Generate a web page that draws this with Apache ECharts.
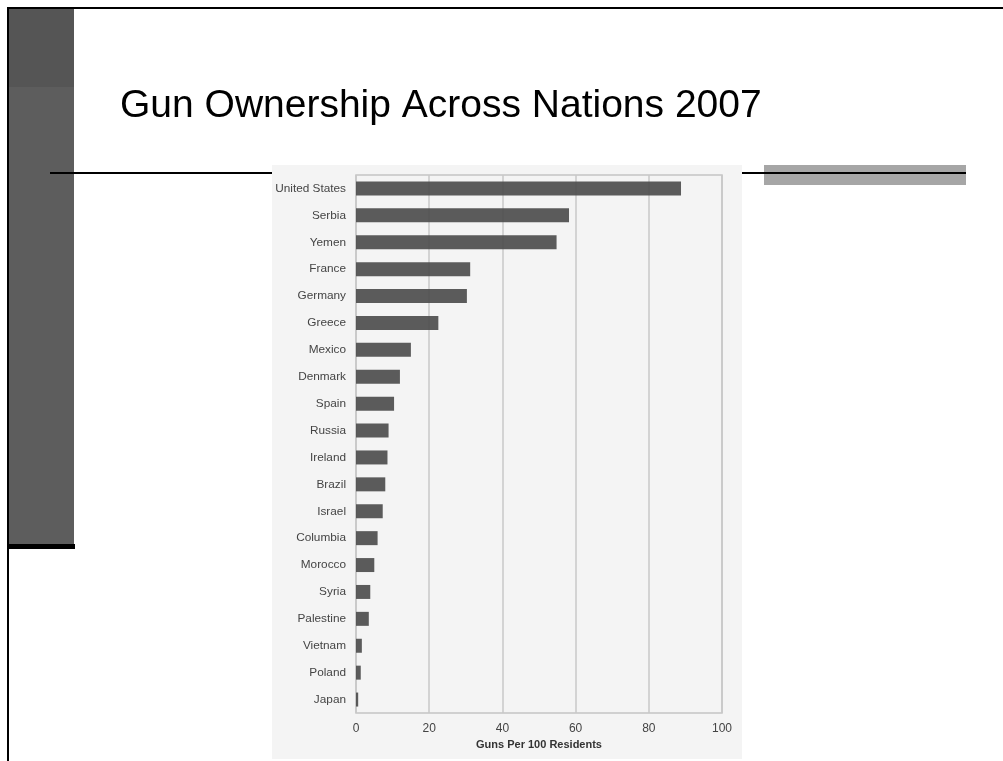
<!DOCTYPE html>
<html>
<head>
<meta charset="utf-8">
<script src="https://cdn.jsdelivr.net/npm/echarts@6/dist/echarts.min.js"></script>
<style>
html,body{margin:0;padding:0;background:#fff;}
#chart{width:1003px;height:761px;}
</style>
</head>
<body>
<div id="chart"></div>
<script>
const titleText = 'Gun Ownership Across Nations 2007';
const categories = ['United States','Serbia','Yemen','France','Germany','Greece','Mexico','Denmark','Spain','Russia','Ireland','Brazil','Israel','Columbia','Morocco','Syria','Palestine','Vietnam','Poland','Japan'];
const gunsPer100 = [88.8, 58.2, 54.8, 31.2, 30.3, 22.5, 15.0, 12.0, 10.4, 8.9, 8.6, 8.0, 7.3, 5.9, 5.0, 3.9, 3.5, 1.6, 1.3, 0.6];
const xAxisName = 'Guns Per 100 Residents';

const chart = echarts.init(document.getElementById('chart'), null, {renderer:'canvas'});
chart.setOption({
  backgroundColor: '#ffffff',
  animation: false,
  title: {
    text: titleText,
    left: 115, top: 82,
    textStyle: {fontFamily: 'Liberation Sans, Arial, sans-serif', fontSize: 39, fontWeight: 'normal', color: '#000'}
  },
  graphic: [
    {type:'rect', z:-10, shape:{x:9,y:9,width:65,height:78}, style:{fill:'#555555'}},
    {type:'rect', z:-10, shape:{x:9,y:87,width:65,height:457}, style:{fill:'#5d5d5d'}},
    {type:'rect', z:-9, shape:{x:9,y:544,width:66,height:5}, style:{fill:'#000'}},
    {type:'rect', z:-8, shape:{x:7,y:7,width:996,height:2}, style:{fill:'#000'}},
    {type:'rect', z:-8, shape:{x:7,y:7,width:2,height:754}, style:{fill:'#000'}},
    {type:'rect', z:-10, shape:{x:50,y:172,width:222,height:2}, style:{fill:'#000'}},
    {type:'rect', z:-10, shape:{x:272,y:165,width:470,height:594}, style:{fill:'#f4f4f4'}},
    {type:'rect', z:-10, shape:{x:764,y:165,width:202,height:20}, style:{fill:'#a6a6a6'}},
    {type:'rect', z:-9, shape:{x:742,y:172,width:224,height:2}, style:{fill:'#000'}}
  ],
  grid: {
    left: 356, right: 281, top: 175, bottom: 48,
    show: true, borderColor: '#c4c4c4', borderWidth: 1.5, backgroundColor: 'transparent'
  },
  xAxis: {
    type: 'value', min: 0, max: 100, interval: 20,
    axisLine: {show:false}, axisTick: {show:false},
    splitLine: {show:true, lineStyle:{color:'#c8c8c8', width:1.5}},
    axisLabel: {color:'#444', fontSize: 12, margin: 10, fontFamily: 'Liberation Sans, Arial, sans-serif'},
    name: xAxisName, nameLocation: 'middle', nameGap: 26,
    nameTextStyle: {color:'#333', fontSize: 11, fontWeight:'bold', fontFamily: 'Liberation Sans, Arial, sans-serif'}
  },
  yAxis: {
    type: 'category', data: categories, inverse: true,
    axisLine: {show:false}, axisTick: {show:false}, splitLine:{show:false},
    axisLabel: {color:'#444', fontSize: 11.8, margin: 10, fontFamily: 'Liberation Sans, Arial, sans-serif'}
  },
  series: [{
    type: 'bar', data: gunsPer100, barWidth: '52%',
    itemStyle: {color: '#4a4a4a', opacity: 0.9},
    silent: true
  }]
});
</script>
</body>
</html>
